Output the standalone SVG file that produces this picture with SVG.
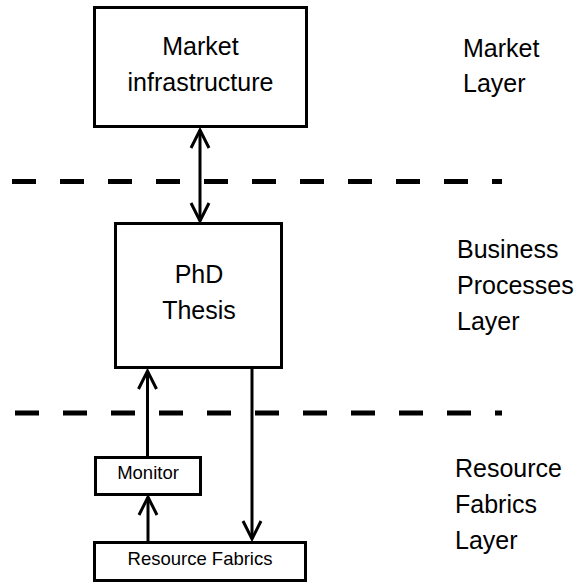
<svg xmlns="http://www.w3.org/2000/svg" width="574" height="584" viewBox="0 0 574 584">
  <style>
    .box { fill: #ffffff; stroke: #000000; stroke-width: 3; }
    .big { font-family: "Liberation Sans", Arial, sans-serif; font-size: 25px; fill: #000000; }
    .small { font-family: "Liberation Sans", Arial, sans-serif; font-size: 18.5px; fill: #000000; }
    .mid { text-anchor: middle; }
    .sep { stroke: #000000; stroke-width: 5; stroke-dasharray: 24 24; fill: none; }
    .link { stroke: #000000; stroke-width: 3; fill: none; }
  </style>
  <defs>
    <marker id="head" viewBox="-20 -12 24 24" refX="0" refY="0" markerWidth="24" markerHeight="24"
            markerUnits="userSpaceOnUse" orient="auto-start-reverse" overflow="visible">
      <path d="M -18,-9 L 0,0 L -18,9" fill="none" stroke="#000000" stroke-width="3"/>
    </marker>
  </defs>

  <rect width="574" height="584" fill="#ffffff"/>

  <!-- layer separators -->
  <g id="separators">
    <line class="sep" x1="12" y1="181.5" x2="502" y2="181.5"/>
    <line class="sep" x1="15" y1="413" x2="502" y2="413"/>
  </g>

  <!-- layer captions -->
  <g id="layer-labels" class="big">
    <text x="463" y="57">Market</text>
    <text x="463" y="92">Layer</text>
    <text x="457" y="258">Business</text>
    <text x="457" y="294">Processes</text>
    <text x="457" y="330">Layer</text>
    <text x="455" y="477">Resource</text>
    <text x="455" y="513">Fabrics</text>
    <text x="455" y="549">Layer</text>
  </g>

  <g id="market-infrastructure">
    <rect class="box" x="94.5" y="7.5" width="212" height="119"/>
    <text class="big mid" x="200.5" y="55">Market</text>
    <text class="big mid" x="200.5" y="91">infrastructure</text>
  </g>

  <g id="phd-thesis">
    <rect class="box" x="115.5" y="223.5" width="166" height="144"/>
    <text class="big mid" x="199" y="283">PhD</text>
    <text class="big mid" x="199" y="319">Thesis</text>
  </g>

  <g id="monitor">
    <rect class="box" x="95.5" y="457.5" width="105" height="37"/>
    <text class="small mid" x="148" y="479">Monitor</text>
  </g>

  <g id="resource-fabrics">
    <rect class="box" x="94.5" y="542.5" width="211" height="38"/>
    <text class="small mid" x="200" y="565">Resource Fabrics</text>
  </g>

  <!-- connectors -->
  <g id="connectors">
    <line class="link" x1="200" y1="130" x2="200" y2="221" marker-start="url(#head)" marker-end="url(#head)"/>
    <line class="link" x1="147.5" y1="456" x2="147.5" y2="371" marker-end="url(#head)"/>
    <line class="link" x1="148" y1="541" x2="148" y2="497" marker-end="url(#head)"/>
    <line class="link" x1="252" y1="369" x2="252" y2="539" marker-end="url(#head)"/>
  </g>
</svg>
